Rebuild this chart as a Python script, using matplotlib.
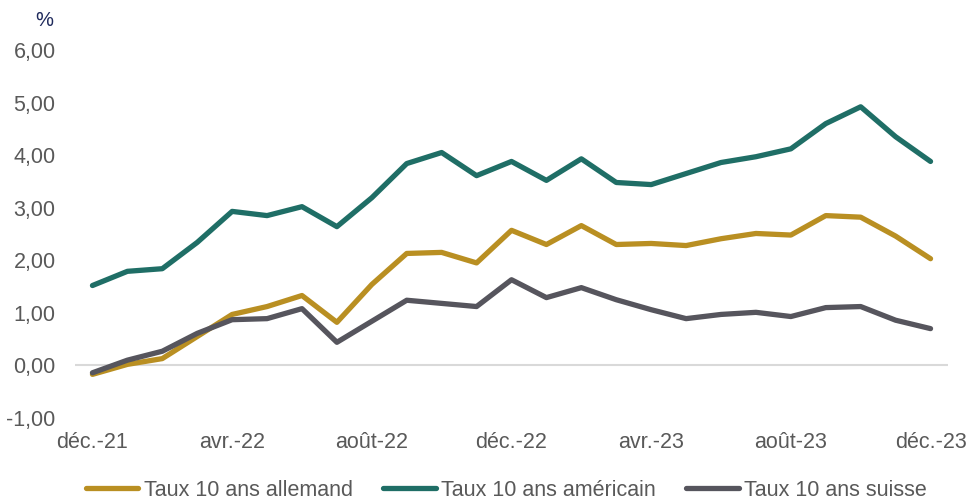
import numpy as np
import matplotlib
matplotlib.use("Agg")
from matplotlib import pyplot as plt

# Monthly dates, déc.-21 to déc.-23
months = ["déc.-21", "janv.-22", "févr.-22", "mars-22", "avr.-22", "mai-22", "juin-22",
          "juil.-22", "août-22", "sept.-22", "oct.-22", "nov.-22", "déc.-22",
          "janv.-23", "févr.-23", "mars-23", "avr.-23", "mai-23", "juin-23",
          "juil.-23", "août-23", "sept.-23", "oct.-23", "nov.-23", "déc.-23"]

taux_allemand = [-0.17, 0.02, 0.13, 0.55, 0.97, 1.12, 1.33, 0.82, 1.54, 2.13, 2.15, 1.95, 2.57,
                 2.30, 2.66, 2.30, 2.32, 2.28, 2.41, 2.51, 2.48, 2.85, 2.82, 2.46, 2.03]
taux_americain = [1.52, 1.79, 1.84, 2.34, 2.93, 2.85, 3.02, 2.64, 3.19, 3.84, 4.05, 3.61, 3.88,
                  3.52, 3.93, 3.48, 3.44, 3.65, 3.86, 3.97, 4.12, 4.60, 4.92, 4.35, 3.88]
taux_suisse = [-0.14, 0.10, 0.27, 0.61, 0.87, 0.89, 1.08, 0.44, 0.84, 1.24, 1.18, 1.12, 1.63,
               1.29, 1.48, 1.25, 1.06, 0.89, 0.97, 1.01, 0.93, 1.10, 1.12, 0.86, 0.70]

series = [
    ("Taux 10 ans allemand", taux_allemand, "#B98F22"),
    ("Taux 10 ans américain", taux_americain, "#1F6E66"),
    ("Taux 10 ans suisse", taux_suisse, "#56555D"),
]

plt.rcParams['font.family'] = ['Liberation Sans', 'DejaVu Sans']
text_grey = "#595959"
fs = 15.5

fig = plt.figure(figsize=(9.68, 5), dpi=100)
ax = fig.add_axes([75 / 968, 82 / 500, (948 - 75) / 968, (418 - 50) / 500])

x = np.arange(len(months))
ax.axhline(0, color="#D9D9D9", lw=1.5, zorder=1)
for label, vals, col in series:
    ax.plot(x, vals, color=col, lw=3.8, label=label, solid_capstyle="round", zorder=3)

ax.set_xlim(-0.5, len(months) - 0.5)
ax.set_ylim(-1, 6)
ax.set_yticks(np.arange(-1, 7, 1))
ax.set_yticklabels([f"{v:.2f}".replace(".", ",") for v in np.arange(-1, 7, 1)])
ax.set_xticks(x[::4])
ax.set_xticklabels(months[::4])
ax.tick_params(axis="both", length=0, labelsize=fs, colors=text_grey)
ax.tick_params(axis="y", pad=14)
ax.tick_params(axis="x", pad=10)
for s in ax.spines.values():
    s.set_visible(False)

fig.text(44 / 968, 1 - 21 / 500, "%", ha="center", va="center", fontsize=14.5, color="#1F2A5C")

leg = fig.legend(loc="center", bbox_to_anchor=(0.523, 1 - 490 / 500), ncol=3, frameon=False,
                 fontsize=fs, handlelength=2.45, handletextpad=0.25, columnspacing=1.4,
                 borderpad=0, borderaxespad=0)
for t in leg.get_texts():
    t.set_color(text_grey)

fig.savefig("out.png", dpi=100)
